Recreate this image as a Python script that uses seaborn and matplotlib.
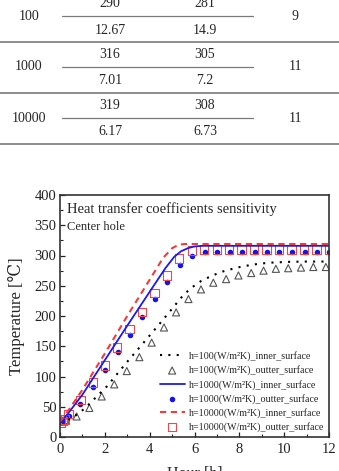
import matplotlib
matplotlib.use("Agg")
import matplotlib.pyplot as plt
import seaborn as sns
from matplotlib.lines import Line2D
from matplotlib.ticker import MultipleLocator

# table values (top part of the figure)
h_rows = ["100", "1000", "10000"]
inner_max = ["290", "316", "319"]
outer_max = ["281", "305", "308"]
inner_time = ["12.67", "7.01", "6.17"]
outer_time = ["14.9", "7.2", "6.73"]
last_col = ["9", "11", "11"]

# curves
hour_in100 = [0, 0.5, 1.1, 2.1, 2.9, 3.8, 4.6, 5.4, 5.8, 6.3, 6.8, 7.3, 7.9, 8.6, 9.3, 10.2, 11.0, 12]
temp_in100 = [25, 30, 47, 84, 120, 159, 194, 230, 245, 258, 267, 274, 280, 285, 288, 289.5, 290, 290]

hour_out100 = [0.05, 0.25, 0.74, 1.31, 1.86, 2.42, 2.98, 3.54, 4.09, 4.64, 5.18, 5.73,
               6.29, 6.84, 7.41, 7.96, 8.53, 9.08, 9.63, 10.18, 10.75, 11.3, 11.86]
temp_out100 = [25, 28, 34, 48, 67, 87, 109, 132, 156, 181, 206, 228,
               244, 255, 261, 267, 271, 275, 278, 279, 280, 281, 281]

hour_in1000 = [0, 0.3, 1.0, 2.0, 3.0, 4.0, 4.7, 5.1, 5.4, 5.7, 6.0, 6.4, 12]
temp_in1000 = [25, 36, 70, 127, 184, 240, 279, 298, 307, 312, 315, 316, 316]

hour_out1000 = [0.03, 0.12, 0.41, 0.91, 1.46, 2.02, 2.57, 3.13, 3.68, 4.24, 4.79, 5.35,
                5.9, 6.46, 7.02, 7.57, 8.13, 8.68, 9.24, 9.79, 10.35, 10.91, 11.46, 12.0]
temp_out1000 = [24, 27, 34, 54, 82, 111, 140, 169, 198, 228, 257, 284,
                299, 305, 306, 306, 306, 306, 306, 306, 306, 306, 306, 306]

hour_in10000 = [0, 0.3, 1.0, 2.0, 3.0, 4.0, 4.6, 5.0, 5.3, 5.6, 12]
temp_in10000 = [25, 40, 78, 138, 200, 260, 296, 312, 318, 319, 319]

hour_out10000 = [0.03, 0.12, 0.22, 0.38, 0.92, 1.47, 2.0, 2.55, 3.1, 3.65, 4.21, 4.77, 5.32,
                 5.88, 6.43, 6.99, 7.55, 8.1, 8.66, 9.21, 9.77, 10.33, 10.88, 11.44, 11.99]
temp_out10000 = [24, 26, 29, 38, 61, 90, 118, 148, 178, 207, 238, 267, 295,
                 308, 310, 310, 310, 310, 310, 310, 310, 310, 310, 310, 310]

labels = [
    "h=100(W/m²K)_inner_surface",
    "h=100(W/m²K)_outter_surface",
    "h=1000(W/m²K)_inner_surface",
    "h=1000(W/m²K)_outter_surface",
    "h=10000(W/m²K)_inner_surface",
    "h=10000(W/m²K)_outter_surface",
]

sns.set_theme(style="ticks")
plt.rcParams["font.family"] = ["Liberation Serif", "DejaVu Serif", "Noto Sans CJK SC"]

W, H = 339, 471
fig = plt.figure(figsize=(W / 100, H / 100), dpi=100)


def fy(px):
    return 1 - px / H


# ---- table ----
gray = "#7a7a7a"
for i in range(3):
    mid = 16 + 51 * i
    fig.add_artist(Line2D([62 / W, 253 / W], [fy(mid), fy(mid)], color=gray, lw=0.9))
    fig.add_artist(Line2D([0, 1], [fy(mid + 26), fy(mid + 26)], color=gray, lw=1.2))
    fig.text(29 / W, fy(mid), h_rows[i], ha="center", va="center", fontsize=10)
    fig.text(110 / W, fy(mid - 12.5), inner_max[i], ha="center", va="center", fontsize=10)
    fig.text(205 / W, fy(mid - 12.5), outer_max[i], ha="center", va="center", fontsize=10)
    fig.text(110 / W, fy(mid + 14), inner_time[i], ha="center", va="center", fontsize=10)
    fig.text(205 / W, fy(mid + 14), outer_time[i], ha="center", va="center", fontsize=10)
    fig.text(295 / W, fy(mid), last_col[i], ha="center", va="center", fontsize=10)

# ---- chart ----
ax = fig.add_axes([60 / W, (H - 437) / H, 269 / W, 242 / H])

sns.lineplot(x=hour_in100, y=temp_in100, ax=ax, color="black", lw=1.5,
             linestyle=(0, (1, 3)), label=labels[0])
sns.scatterplot(x=hour_out100, y=temp_out100, ax=ax, marker="^", s=26,
                facecolor="none", edgecolor="#555555", linewidth=0.8, label=labels[1])
sns.lineplot(x=hour_in1000, y=temp_in1000, ax=ax, color="#1a1aee", lw=1.3, label=labels[2])
sns.scatterplot(x=hour_out1000, y=temp_out1000, ax=ax, marker="o", s=16,
                color="#1414e6", edgecolor="#1414e6", linewidth=0, label=labels[3])
sns.lineplot(x=hour_in10000, y=temp_in10000, ax=ax, color="#f03c3c", lw=1.5,
             linestyle=(0, (3, 2.2)), label=labels[4])
sns.scatterplot(x=hour_out10000, y=temp_out10000, ax=ax, marker="s", s=36,
                facecolor="none", edgecolor="#f04848", linewidth=0.8, label=labels[5])

ax.set_xlim(0, 12)
ax.set_ylim(0, 400)
ax.xaxis.set_major_locator(MultipleLocator(2))
ax.xaxis.set_minor_locator(MultipleLocator(1))
ax.yaxis.set_major_locator(MultipleLocator(50))
ax.yaxis.set_minor_locator(MultipleLocator(25))
ax.tick_params(which="both", direction="in", colors="#222222", labelsize=10.5)
ax.tick_params(which="major", length=3.5, width=0.9)
ax.tick_params(which="minor", length=2, width=0.8)
ax.tick_params(axis="x", pad=4)
ax.tick_params(axis="y", pad=2.5)
for sp in ax.spines.values():
    sp.set_color("#333333")
    sp.set_linewidth(1.2)

ax.set_xlabel("Hour [h]", fontsize=11.5)
ax.xaxis.set_label_coords(0.5, -0.12)
ax.set_ylabel("Temperature [℃]", fontsize=12)
ax.yaxis.set_label_coords(-0.13, 0.5)

ax.text(0.027, 0.94, "Heat transfer coefficients sensitivity", transform=ax.transAxes,
        fontsize=10.5, va="center")
ax.text(0.027, 0.868, "Center hole", transform=ax.transAxes, fontsize=9, va="center")

handles, labs = ax.get_legend_handles_labels()
order = [labs.index(l) for l in labels]
ax.legend([handles[k] for k in order], labels, loc="lower right", frameon=False,
          fontsize=7.2, handlelength=2.5, handletextpad=0.4, labelspacing=0.42,
          borderaxespad=0.3, borderpad=0.2)

fig.savefig("out.png", dpi=100)
